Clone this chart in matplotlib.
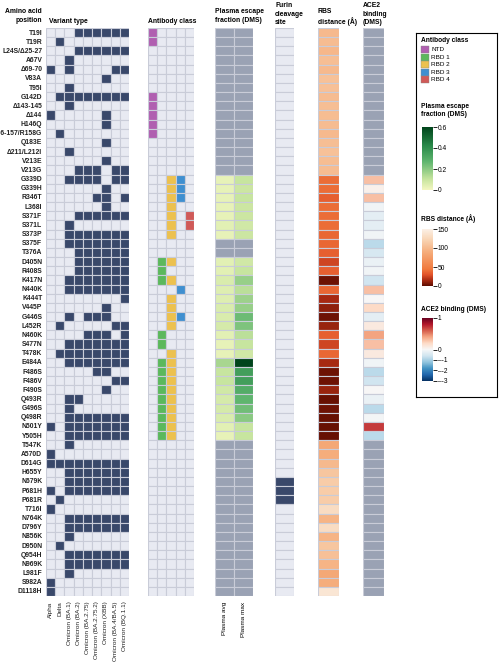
import numpy as np
import matplotlib
matplotlib.use("Agg")
import matplotlib.pyplot as plt
from matplotlib.colors import LinearSegmentedColormap, TwoSlopeNorm, Normalize
from matplotlib.patches import Rectangle
import matplotlib.cm as cm

mutations = ["T19I","T19R","L24S/Δ25-27","A67V","Δ69-70","V83A","T95I","G142D","Δ143-145","Δ144",
"H146Q","Δ156-157/R158G","Q183E","Δ211/L212I","V213E","V213G","G339D","G339H","R346T","L368I",
"S371F","S371L","S373P","S375F","T376A","D405N","R408S","K417N","N440K","K444T","V445P","G446S",
"L452R","N460K","S477N","T478K","E484A","F486S","F486V","F490S","Q493R","G496S","Q498R","N501Y",
"Y505H","T547K","A570D","D614G","H655Y","N679K","P681H","P681R","T716I","N764K","D796Y","N856K",
"D950N","Q954H","N969K","L981F","S982A","D1118H"]
variants = ["Alpha","Delta","Omicron (BA.1)","Omicron (BA.2)","Omicron (BA.2.75)","Omicron (BA.2.75.2)",
            "Omicron (XBB)","Omicron (BA.4/BA.5)","Omicron (BQ.1.1)"]
variant_rows = ["000111111","010000000","000111111","001000000","101000011","000000100","001000000",
"011111111","001000000","100000100","000000100","010000000","000000100","001000000","000000100",
"000111011","001111011","000000100","000001101","000000100","000111111","001000000","001111111",
"001111111","000111111","000111111","000111111","001111111","001111111","000000001","000000100",
"001011100","010000011","000011101","001111111","011111111","001111111","000001100","000000011",
"000000100","001100000","001000000","001111111","101111111","001111111","001000000","100000000",
"111111111","001111111","001111111","101111111","010000000","100000000","001111111","001111111",
"001000000","010000000","001111111","001111111","001000000","100000000","100000000"]
ab_classes = ["NTD","RBD 1","RBD 2","RBD 3","RBD 4"]
ab_colors = ["#b05fb0","#5cb85c","#ecc14f","#3f8fd0","#d05a58"]
ab_assign = {0:[0],1:[0],7:[0],8:[0],9:[0],10:[0],11:[0],
             16:[2,3],17:[2,3],18:[2,3],19:[2],20:[2,4],21:[2,4],22:[2],
             25:[1,2],26:[1],27:[1,2],28:[3],29:[2],30:[2],31:[2,3],32:[2],
             33:[1],34:[1],35:[2],36:[1,2],37:[1,2],38:[1,2],39:[1,2],40:[1,2],
             41:[1,2],42:[1,2],43:[1,2],44:[1,2]}
plasma_avg = {16:.03,17:.03,18:.03,19:.03,20:.03,21:.04,22:.03,25:.04,26:.04,27:.06,28:.05,29:.05,
              30:.06,31:.06,32:.07,33:.04,34:.03,35:.03,36:.15,37:.1,38:.1,39:.08,40:.07,41:.07,
              42:.06,43:.04,44:.03}
plasma_max = {16:.1,17:.09,18:.1,19:.09,20:.09,21:.08,22:.09,25:.08,26:.1,27:.18,28:.12,29:.17,
              30:.18,31:.25,32:.22,33:.12,34:.1,35:.08,36:.6,37:.35,38:.35,39:.3,40:.27,41:.24,
              42:.2,43:.1,44:.1}
furin_sites = ["N679K","P681H","P681R"]
rbs_distance = [100,102,98,104,100,106,105,102,104,103,102,100,104,106,103,102,
                40,40,35,40,40,40,38,38,35,25,35,3,38,15,10,3,12,35,25,38,15,3,3,12,2,3,2,2,2,
                85,90,100,110,115,115,115,130,95,130,95,110,105,95,85,90,140]
ace2 = {16:.3,17:.05,18:.3,19:-.1,20:-.3,21:-.3,22:-.1,23:-.8,24:-.5,25:-.2,26:-.1,27:-.6,28:.3,
        29:0,30:.2,31:-.3,32:.1,33:.4,34:.3,35:.1,36:-.1,37:-.8,38:-.6,39:0,40:-.2,41:-.8,
        42:-.05,43:.7,44:-.8}

W, H = 501, 665
fig = plt.figure(figsize=(W/100, H/100), dpi=100)
plt.rcParams['font.family'] = ['Liberation Sans', 'DejaVu Sans']
n = len(mutations)
Y0, Y1 = 28, 596
EMPTY = "#e8eaf2"; EDGE = "#c9ccd8"; NANC = "#9aa2b4"; DARK = "#39486a"
FS = 4.9

def pax(x0, x1, y0=Y0, y1=Y1):
    ax = fig.add_axes([x0/W, 1-y1/H, (x1-x0)/W, (y1-y0)/H])
    ax.set_axis_off()
    return ax

def grid(ax, colors, ncol):
    for i in range(n):
        for j in range(ncol):
            ax.add_patch(Rectangle((j, i), 1, 1, facecolor=colors[i][j], edgecolor=EDGE, lw=0.8))
    ax.set_xlim(0, ncol); ax.set_ylim(n, 0)

ax = pax(46, 129)
grid(ax, [[DARK if c == "1" else EMPTY for c in r] for r in variant_rows], 9)
for i, m in enumerate(mutations):
    ax.text(-0.4, i+0.55, m, ha="right", va="center", fontsize=FS, fontweight="bold", color="#222")
for j, v in enumerate(variants):
    ax.text(j+0.5, n+0.6, v, rotation=90, ha="center", va="top", fontsize=4.6, color="#222")
fig.text(42/W, 1-8/H, "Amino acid\nposition", ha="right", va="top", fontsize=FS, fontweight="bold", linespacing=1.5)
fig.text(49/W, 1-18/H, "Variant type", ha="left", va="top", fontsize=FS, fontweight="bold")

ax = pax(148, 194)
cols = [[ab_colors[k] if k in ab_assign.get(i, []) else EMPTY for k in range(5)] for i in range(n)]
grid(ax, cols, 5)
fig.text(148/W, 1-18/H, "Antibody class", ha="left", va="top", fontsize=FS, fontweight="bold")

ygn = LinearSegmentedColormap.from_list("pl", [(0, "#f4f7c2"), (0.17, "#c6e49e"), (0.45, "#5fb56e"), (0.7, "#2a8a4a"), (1, "#00441b")])
pn = Normalize(0, 0.6)
ax = pax(215, 253)
cols = [[ygn(pn(d[i])) if i in d else NANC for d in (plasma_avg, plasma_max)] for i in range(n)]
grid(ax, cols, 2)
for j, t in enumerate(["Plasma avg", "Plasma max"]):
    ax.text(j+0.5, n+0.6, t, rotation=90, ha="center", va="top", fontsize=4.6)
fig.text(215/W, 1-8/H, "Plasma escape\nfraction (DMS)", ha="left", va="top", fontsize=FS, fontweight="bold", linespacing=1.3)

ax = pax(275, 294)
grid(ax, [[DARK if m in furin_sites else EMPTY] for m in mutations], 1)
fig.text(275/W, 1-2/H, "Furin\ncleavage\nsite", ha="left", va="top", fontsize=FS, fontweight="bold", linespacing=1.3)

orc = LinearSegmentedColormap.from_list("rb", [(0, "#5e0c00"), (0.1, "#a82a12"), (0.2, "#e2532a"), (0.3, "#f07a3e"),
                                               (0.6, "#f5ad7c"), (0.8, "#f8d2b0"), (1, "#fbf0e6")])
rn = Normalize(0, 150)
ax = pax(318, 339)
grid(ax, [[orc(rn(v))] for v in rbs_distance], 1)
fig.text(318/W, 1-8/H, "RBS\ndistance (Å)", ha="left", va="top", fontsize=FS, fontweight="bold", linespacing=1.3)

rdb = plt.get_cmap("RdBu_r"); an = TwoSlopeNorm(vcenter=0, vmin=-3, vmax=1)
ax = pax(363, 384)
grid(ax, [[rdb(an(ace2[i])) if i in ace2 else NANC] for i in range(n)], 1)
fig.text(363/W, 1-2/H, "ACE2\nbinding\n(DMS)", ha="left", va="top", fontsize=FS, fontweight="bold", linespacing=1.3)

lb = fig.add_axes([416/W, 1-397/H, 81/W, 364/H]); lb.set_xticks([]); lb.set_yticks([])
for s in lb.spines.values(): s.set_linewidth(0.8)
fig.text(421/W, 1-37/H, "Antibody class", ha="left", va="top", fontsize=4.8, fontweight="bold")
for k, (c, lab) in enumerate(zip(ab_colors, ab_classes)):
    y = 46 + k*7.6
    fig.patches.append(Rectangle((421/W, 1-(y+7)/H), 8/W, 7/H, facecolor=c, edgecolor="#888", lw=0.3, transform=fig.transFigure))
    fig.text(431/W, 1-(y+3.5)/H, lab, ha="left", va="center", fontsize=4.6)

def cbar(y0, y1, cmap, norm, ticks, title, ty):
    fig.text(421/W, 1-ty/H, title, ha="left", va="top", fontsize=4.8, fontweight="bold", linespacing=1.3)
    cax = fig.add_axes([422/W, 1-y1/H, 11/W, (y1-y0)/H])
    cb = fig.colorbar(cm.ScalarMappable(norm=norm, cmap=cmap), cax=cax, ticks=ticks)
    cb.outline.set_visible(False)
    cb.ax.tick_params(labelsize=4.8, length=3, width=0.6, pad=0.5)
    cb.ax.set_yticklabels(["–%g" % t if t < 0 else "%g" % t for t in ticks])

cbar(127, 190, ygn, pn, [0, 0.2, 0.4, 0.6], "Plasma escape\nfraction (DMS)", 103)
cbar(229, 286, orc, rn, [0, 50, 100, 150], "RBS distance (Å)", 214)
cbar(318, 381, rdb, an, [-3, -2, -1, 0, 1], "ACE2 binding (DMS)", 306)

fig.savefig("out.png", dpi=100)
